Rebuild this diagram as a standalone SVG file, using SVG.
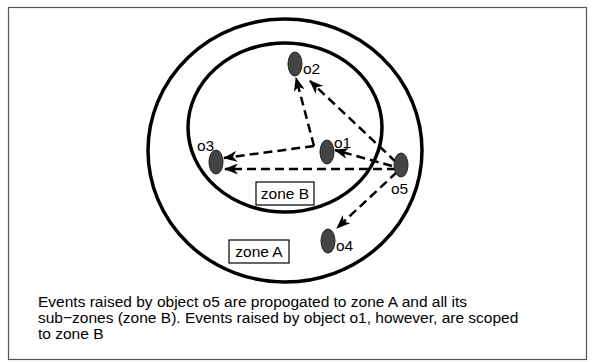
<svg xmlns="http://www.w3.org/2000/svg" width="595" height="362" viewBox="0 0 595 362">
<style>
.frame{fill:#fff;stroke:#555;stroke-width:1.2}
.zone{fill:none;stroke:#000;stroke-width:3.5}
.obj{fill:#444;stroke:#222;stroke-width:1}
.lbl{font-family:"Liberation Sans",Arial,sans-serif;font-size:15.5px;fill:#000}
.box{fill:#fff;stroke:#000;stroke-width:1.2}
.edge{fill:none;stroke:#000;stroke-width:2.5;stroke-dasharray:9 5}
</style>
<defs>
<marker id="ah" markerWidth="14" markerHeight="11" refX="13" refY="5.5" orient="auto" markerUnits="userSpaceOnUse">
<path d="M0,0 L14,5.5 L0,11 L4,5.5 Z" fill="#000"/>
</marker>
</defs>
<rect class="frame" x="8.5" y="7.5" width="578" height="352"/>
<g id="zoneA">
<ellipse class="zone" cx="285" cy="150.5" rx="137" ry="131.5"/>
<rect class="box" x="229" y="240" width="60" height="23"/>
<text class="lbl" x="259" y="257" text-anchor="middle">zone A</text>
</g>
<g id="zoneB">
<ellipse class="zone" cx="285" cy="127.5" rx="97" ry="84.5"/>
<rect class="box" x="256" y="182" width="58" height="23"/>
<text class="lbl" x="285" y="199" text-anchor="middle">zone B</text>
</g>
<g id="connectors">
<line class="edge" x1="396" y1="162" x2="310" y2="81" marker-end="url(#ah)"/>
<line class="edge" x1="392" y1="166" x2="335" y2="150" marker-end="url(#ah)"/>
<line class="edge" x1="396" y1="169" x2="225" y2="169" marker-end="url(#ah)"/>
<line class="edge" x1="397" y1="172" x2="337" y2="228" marker-end="url(#ah)"/>
<line class="edge" x1="314" y1="146" x2="296" y2="78" marker-end="url(#ah)"/>
<line class="edge" x1="314" y1="146" x2="224" y2="158" marker-end="url(#ah)"/>
</g>
<g id="o1">
<ellipse class="obj" cx="327" cy="152" rx="7" ry="12"/>
<text class="lbl" x="334" y="148">o1</text>
</g>
<g id="o2">
<ellipse class="obj" cx="295" cy="64" rx="7" ry="12"/>
<text class="lbl" x="303" y="74">o2</text>
</g>
<g id="o3">
<ellipse class="obj" cx="216" cy="162" rx="7" ry="12"/>
<text class="lbl" x="197" y="151">o3</text>
</g>
<g id="o4">
<ellipse class="obj" cx="328" cy="241" rx="7" ry="12"/>
<text class="lbl" x="336" y="251">o4</text>
</g>
<g id="o5">
<ellipse class="obj" cx="401" cy="165" rx="7" ry="12"/>
<text class="lbl" x="391" y="194">o5</text>
</g>
<g id="caption">
<text class="lbl" x="38" y="307">Events raised by object o5 are propogated to zone A and all its</text>
<text class="lbl" x="38" y="323">sub−zones (zone B). Events raised by object o1, however, are scoped</text>
<text class="lbl" x="38" y="339">to zone B</text>
</g>
</svg>
